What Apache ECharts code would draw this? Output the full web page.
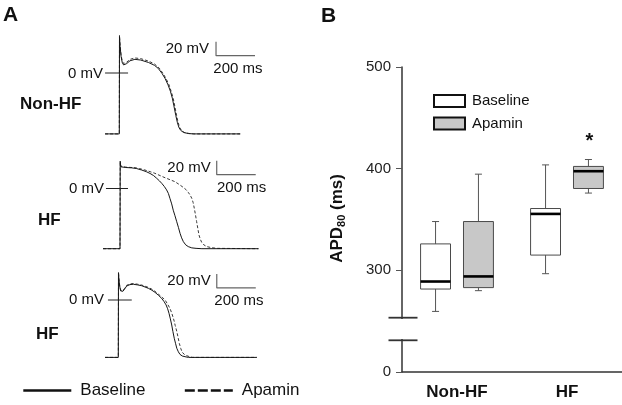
<!DOCTYPE html>
<html><head><meta charset="utf-8">
<script src="https://cdn.jsdelivr.net/npm/echarts@6/dist/echarts.min.js"></script>
<style>html,body{margin:0;padding:0;background:#fff}#c{width:622px;height:405px}</style>
</head><body><div id="c"></div>
<script>
// ---------- Panel A data: [time (ms), voltage (mV)] ----------
const nonHFBaseline = [[-73,-87],[0,-87],[1,52],[4,38],[9,24],[15,15],[22,11.5],[28,11],[38,13.5],[55,17.5],[80,19.5],[110,18.5],[150,15],[180,11],[200,6.5],[220,-1],[235,-8],[250,-17],[262,-26],[272,-36],[280,-47],[290,-61],[298,-71],[306,-78],[315,-82],[330,-85],[355,-86.5],[380,-87],[620,-87]];
const nonHFApamin = [[-73,-87],[0,-87],[1,54],[4,40],[9,26],[15,17],[22,13.5],[28,13],[38,15.5],[55,19.5],[80,21.5],[110,20.5],[150,17],[180,13],[205,7],[225,-1],[240,-8],[255,-17],[267,-27],[277,-37],[285,-48],[294,-61],[302,-71],[310,-78],[319,-82],[334,-85],[360,-86.5],[385,-87],[620,-87]];
const hf1Baseline = [[-87,-86],[0,-86],[1,39],[4,31],[10,30],[30,30],[60,29.5],[85,28.5],[111,26.4],[135,24],[154,21.5],[172,18.5],[188,14.6],[202,11],[214,7.4],[227,3],[239,-2],[248,-7],[256,-14],[265,-22],[273,-31],[282,-39],[291,-47.5],[300,-56],[308,-64],[316,-70.5],[325,-76],[337,-80.5],[350,-83],[368,-84.8],[390,-85.5],[420,-86],[710,-86]];
const hf1Apamin = [[-87,-86],[0,-86],[1,37],[4,32],[9,31],[30,30.5],[77,29.7],[100,28.5],[128,26.4],[155,24],[179,21.7],[205,18.5],[231,15.4],[257,12.5],[282,9.7],[305,5.5],[325,1.5],[340,-2],[350,-5.5],[360,-9.5],[368,-14],[375,-20],[381,-28.3],[387,-37.5],[393,-47.4],[399,-57],[405,-66.4],[412,-72.5],[419,-77],[430,-80.5],[445,-83],[470,-84.6],[500,-85.5],[710,-86]];
const hf2Baseline = [[-68,-82],[0,-82],[1,39],[3,30],[7,20],[12,13],[18,11.5],[24,12.5],[32,15.5],[43,20],[60,22],[77,22.5],[100,21.5],[120,20.4],[154,16.7],[172,14],[188,11],[205,7],[222,2.4],[234,-2],[245,-7],[253,-12.5],[260,-19],[267,-27],[274,-35.7],[280,-45],[287,-54.7],[294,-62.5],[300,-69],[308,-74],[316,-77.6],[328,-80],[342,-81],[360,-82],[710,-82]];
const hf2Apamin = [[-68,-82],[0,-82],[1,40],[3,31],[7,21],[12,14],[18,12.5],[24,13.5],[32,16.5],[43,21],[60,23],[77,23.5],[100,22.5],[120,21.4],[154,18],[172,15.5],[188,12.5],[205,8.5],[222,4.5],[240,0],[253,-6],[265,-12],[275,-19.5],[285,-28.6],[292,-36.5],[300,-45],[307,-54],[313,-62],[320,-69],[328,-74.8],[340,-78],[351,-79.5],[365,-81],[380,-82],[710,-82]];
// scale bars (20 mV / 200 ms) and 0 mV markers per trace
const scaleBars = [[[496,44.7],[496,24.7],[696,24.7]], [[496,39.7],[496,19.7],[696,19.7]], [[505,37.3],[505,17.3],[705,17.3]]];
const zeroTicks = [[[-73,0],[45,0]], [[-72,0],[41,0]], [[-53,0],[69,0]]];

// ---------- Panel B data: APD80 (ms) [min, Q1, median, Q3, max] ----------
const boxCategories = ['Non-HF', 'HF'];
const baselineBox = [[259.6, 281.6, 289, 326, 348], [296.7, 315, 355.5, 360.8, 403.7]];
const apaminBox = [[280, 283, 294, 348, 394.6], [376, 380.5, 397.5, 402.2, 409]];
const yTicksB = [200, 300, 400, 500]; // 200 is shown as "0" (broken axis)

const FONT = 'Liberation Sans, Arial, Helvetica, sans-serif';
const chart = echarts.init(document.getElementById('c'), null, {renderer: 'canvas'});

function trace(name, idx, data, dashed) {
  const col = dashed ? '#3a3a3a' : '#161616';
  return {type: 'line', name: name, xAxisIndex: idx, yAxisIndex: idx, data: data,
    symbol: 'none', showSymbol: false, silent: true, animation: false, z: dashed ? 3 : 4,
    lineStyle: {color: col, width: 1, type: dashed ? [3, 2] : 'solid'}, itemStyle: {color: col}};
}
function helper(idx, data, col, w) {
  return {type: 'line', name: 'helper' + idx + w, xAxisIndex: idx, yAxisIndex: idx, data: data,
    symbol: 'none', showSymbol: false, silent: true, animation: false, z: 5,
    lineStyle: {color: col, width: w}};
}
function boxRenderer(offset, fill) {
  return function (params, api) {
    const c = api.value(0);
    const band = api.size([1, 0])[0];
    const x = api.coord([c, api.value(3)])[0] + band * offset;
    const w = band * 0.272;
    const yMin = api.coord([c, api.value(1)])[1];
    const yQ1 = api.coord([c, api.value(2)])[1];
    const yMed = api.coord([c, api.value(3)])[1];
    const yQ3 = api.coord([c, api.value(4)])[1];
    const yMax = api.coord([c, api.value(5)])[1];
    const cap = 3.5;
    const ws = {stroke: '#555', lineWidth: 1};
    return {type: 'group', children: [
      {type: 'line', shape: {x1: x, y1: yMax, x2: x, y2: yQ3}, style: ws},
      {type: 'line', shape: {x1: x - cap, y1: yMax, x2: x + cap, y2: yMax}, style: ws},
      {type: 'line', shape: {x1: x, y1: yQ1, x2: x, y2: yMin}, style: ws},
      {type: 'line', shape: {x1: x - cap, y1: yMin, x2: x + cap, y2: yMin}, style: ws},
      {type: 'rect', shape: {x: x - w / 2, y: yQ3, width: w, height: yQ1 - yQ3}, style: {fill: fill, stroke: '#4a4a4a', lineWidth: 1}},
      {type: 'line', shape: {x1: x - w / 2, y1: yMed, x2: x + w / 2, y2: yMed}, style: {stroke: '#000', lineWidth: 2.6}}
    ]};
  };
}

const gridsA = [{left: 99.8, top: 24}, {left: 100.5, top: 139.5}, {left: 98.8, top: 251}];
const grid = gridsA.map(g => ({left: g.left, top: g.top, width: 165.75, height: 119}));
grid.push({left: 402, right: 0, top: 67, bottom: 33});

const xAxis = gridsA.map((g, i) => ({type: 'value', gridIndex: i, min: -100, max: 750, show: false}));
xAxis.push({type: 'category', gridIndex: 3, data: boxCategories,
  axisLine: {lineStyle: {color: '#333', width: 1.5}}, axisTick: {show: false},
  axisLabel: {fontSize: 17, fontWeight: 'bold', fontFamily: FONT, color: '#111', margin: 11.5}});
const yAxis = gridsA.map((g, i) => ({type: 'value', gridIndex: i, min: -100, max: 70, show: false}));
yAxis.push({type: 'value', gridIndex: 3, min: yTicksB[0], max: yTicksB[yTicksB.length - 1], interval: 100,
  axisLine: {show: true, lineStyle: {color: '#333', width: 1.5}},
  axisTick: {show: true, length: 6, lineStyle: {color: '#555', width: 1}},
  splitLine: {show: false},
  axisLabel: {margin: 11, fontSize: 15, fontFamily: FONT, color: '#222',
    formatter: v => (v === yTicksB[0] ? '0' : String(v))}});

const series = [
  trace('Baseline', 0, nonHFBaseline, false), trace('Apamin', 0, nonHFApamin, true),
  trace('Baseline', 1, hf1Baseline, false), trace('Apamin', 1, hf1Apamin, true),
  trace('Baseline', 2, hf2Baseline, false), trace('Apamin', 2, hf2Apamin, true)
];
for (let i = 0; i < 3; i++) {
  series.push(helper(i, scaleBars[i], '#666', 1.2));
  series.push(helper(i, zeroTicks[i], '#222', 1));
}
series.push({type: 'custom', name: 'Baseline', xAxisIndex: 3, yAxisIndex: 3, renderItem: boxRenderer(-0.195, '#ffffff'),
  data: baselineBox.map((d, i) => [i].concat(d)), encode: {x: 0, y: [1, 2, 3, 4, 5]},
  itemStyle: {color: '#fff', borderColor: '#000'}, silent: true, animation: false, z: 5});
series.push({type: 'custom', name: 'Apamin', xAxisIndex: 3, yAxisIndex: 3, renderItem: boxRenderer(0.195, '#c8c8c8'),
  data: apaminBox.map((d, i) => [i].concat(d)), encode: {x: 0, y: [1, 2, 3, 4, 5]},
  itemStyle: {color: '#c8c8c8', borderColor: '#000'}, silent: true, animation: false, z: 5});

function txt(x, y, text, size, bold, align) {
  return {type: 'text', x: x, y: y, z: 100, silent: true,
    style: {text: text, fontSize: size, fontWeight: bold ? 'bold' : 'normal', fontFamily: FONT,
      fill: '#111', textAlign: align || 'left', textVerticalAlign: 'middle'}};
}

const graphicEls = [
  txt(3, 15, 'A', 21, true), txt(321, 16, 'B', 21, true),
  txt(20, 104, 'Non-HF', 17, true), txt(38, 220, 'HF', 17, true), txt(36, 334, 'HF', 17, true),
  txt(103, 74, '0 mV', 15, false, 'right'), txt(104, 189, '0 mV', 15, false, 'right'), txt(104, 300, '0 mV', 15, false, 'right'),
  txt(209, 49, '20 mV', 15, false, 'right'), txt(210.7, 168, '20 mV', 15, false, 'right'), txt(210.7, 281, '20 mV', 15, false, 'right'),
  txt(213.3, 69, '200 ms', 15, false), txt(217, 188, '200 ms', 15, false), txt(214.3, 301, '200 ms', 15, false),
  // axis break on panel B
  {type: 'rect', z: 100, silent: true, shape: {x: 397, y: 319, width: 10, height: 20}, style: {fill: '#fff'}},
  {type: 'line', z: 101, silent: true, shape: {x1: 388.5, y1: 317.7, x2: 417.5, y2: 317.7}, style: {stroke: '#333', lineWidth: 1.8}},
  {type: 'line', z: 101, silent: true, shape: {x1: 388.5, y1: 340.3, x2: 417.5, y2: 340.3}, style: {stroke: '#333', lineWidth: 1.8}},
  // significance star
  {type: 'text', x: 589.5, y: 141, z: 100, silent: true, style: {text: '*', fontSize: 20, fontWeight: 'bold', fontFamily: FONT, fill: '#111', textAlign: 'center', textVerticalAlign: 'middle'}},
  // y-axis title
  {type: 'text', x: 337, y: 218.5, rotation: Math.PI / 2, z: 100, silent: true,
    style: {text: '{a|APD}{s|80}{a| (ms)}', textAlign: 'center', textVerticalAlign: 'middle',
      rich: {a: {fontSize: 17, fontWeight: 'bold', fontFamily: FONT, fill: '#111', lineHeight: 20},
             s: {fontSize: 11, fontWeight: 'bold', fontFamily: FONT, fill: '#111', lineHeight: 20, verticalAlign: 'bottom'}}}}
];

chart.setOption({
  animation: false,
  backgroundColor: '#fff',
  textStyle: {fontFamily: FONT},
  grid: grid, xAxis: xAxis, yAxis: yAxis,
  legend: [
    {data: [{name: 'Baseline', lineStyle: {color: '#111'}}, {name: 'Apamin', lineStyle: {type: [10, 3], color: '#111'}}], orient: 'horizontal',
      left: 22, top: 382, padding: 0, itemWidth: 48, itemHeight: 14, itemGap: 38, selectedMode: false,
      lineStyle: {width: 2.6}, itemStyle: {opacity: 0, borderWidth: 0},
      textStyle: {fontSize: 17, fontFamily: FONT, color: '#111', padding: [0, 0, 0, 4]}},
    {data: [{name: 'Baseline', itemStyle: {color: '#ffffff'}}, {name: 'Apamin', itemStyle: {color: '#c8c8c8'}}],
      orient: 'vertical', left: 433, top: 93.5, padding: 0, itemWidth: 31, itemHeight: 12, itemGap: 7.5,
      icon: 'rect', selectedMode: false, itemStyle: {borderColor: '#111', borderWidth: 2},
      textStyle: {fontSize: 15, fontFamily: FONT, color: '#111', padding: [0, 0, 0, 2]}}
  ],
  graphic: {elements: graphicEls},
  series: series
});
</script></body></html>
